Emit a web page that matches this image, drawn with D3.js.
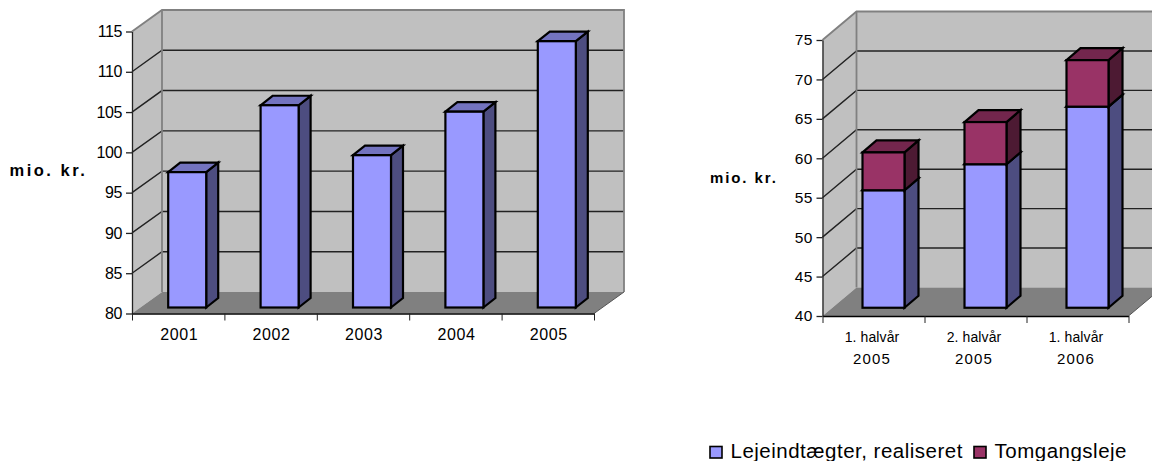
<!DOCTYPE html>
<html>
<head>
<meta charset="utf-8">
<script src="https://cdn.jsdelivr.net/npm/d3@7"></script>
<style>
  html, body { margin: 0; padding: 0; background: #fff; }
  svg { display: block; }
  text { font-family: "Liberation Sans", Arial, sans-serif; fill: #000; }
</style>
</head>
<body>
<div id="chart"></div>
<script>
const years = ['2001', '2002', '2003', '2004', '2005'];
const revenue = [96.8, 105.1, 98.9, 104.3, 113.05];

const halves = ['1. halvår 2005', '2. halvår 2005', '1. halvår 2006'];
const realised = [54.9, 58.2, 65.5];
const vacancy = [4.8, 5.35, 5.9];

const PALETTE = {
  blue: { front: '#9999ff', top: '#7373bf', side: '#4d4d80' },
  wine: { front: '#993366', top: '#73264d', side: '#4d1a33' },
};

const svg = d3.select('#chart').append('svg')
  .attr('width', 1152)
  .attr('height', 461);

// fake 3d column chart: the front axes sit on x/y, the back wall is offset by depth
const drawChart = (c) => {
  const g = svg.append('g');
  const { left, right, top, bottom, domain, depth, bar } = c;

  const y = d3.scaleLinear().domain(domain).range([bottom, top]);
  const x = d3.scaleBand().domain(c.categories).range([left, right]);
  const edges = d3.scaleLinear().domain([0, c.categories.length]).range([left, right]);
  const yTicks = d3.range(domain[0], domain[1] + 1, 5);

  const poly = (pts, fill) => g.append('polygon')
    .attr('points', pts.map(p => p.join(',')).join(' '))
    .attr('fill', fill);

  // walls and floor
  poly([[left, bottom], [left + depth.x, bottom - depth.y], [left + depth.x, top - depth.y], [left, top]], '#c0c0c0');
  poly([[left + depth.x, bottom - depth.y], [right + depth.x, bottom - depth.y], [right + depth.x, top - depth.y], [left + depth.x, top - depth.y]], '#c0c0c0');
  poly([[left, bottom], [right, bottom], [right + depth.x, bottom - depth.y], [left + depth.x, bottom - depth.y]], '#808080');

  // gridlines run along the side wall and across the back
  yTicks.slice(1, -1).forEach(t => {
    g.append('polyline')
      .attr('points', `${left},${y(t)} ${left + depth.x},${y(t) - depth.y} ${right + depth.x},${y(t) - depth.y}`)
      .attr('fill', 'none')
      .attr('stroke', '#222')
      .attr('stroke-width', 1.4);
  });

  // wall outline
  g.append('polyline')
    .attr('points', `${left},${top} ${left + depth.x},${top - depth.y} ${right + depth.x},${top - depth.y} ${right + depth.x},${bottom - depth.y}`)
    .attr('fill', 'none')
    .attr('stroke', '#808080')
    .attr('stroke-width', 1.8);
  g.append('line')
    .attr('x1', left + depth.x).attr('x2', left + depth.x)
    .attr('y1', top - depth.y).attr('y2', bottom - depth.y)
    .attr('stroke', '#808080')
    .attr('stroke-width', 1.8);
  g.append('line')
    .attr('x1', right).attr('y1', bottom)
    .attr('x2', right + depth.x).attr('y2', bottom - depth.y)
    .attr('stroke', '#555')
    .attr('stroke-width', 1);

  // columns, stacked from the bottom up
  const offX = (depth.x - bar.dx) / 2;
  const offY = (depth.y - bar.dy) / 2;
  const keys = c.series.map(s => s.key);
  const rows = c.categories.map((cat, i) => {
    const row = { cat };
    c.series.forEach(s => { row[s.key] = s.values[i]; });
    return row;
  });
  const stacked = d3.stack().keys(keys)(rows);

  stacked.forEach((layer, li) => {
    const colors = c.series[li].colors;
    layer.forEach(d => {
      const cat = d.data.cat;
      const x0 = x(cat) + x.bandwidth() / 2 + offX - bar.width / 2;
      const x1 = x0 + bar.width;
      const yLow = y(li === 0 ? domain[0] : d[0]) - offY;
      const yTop = y(d[1]) - offY;
      const col = g.append('g')
        .attr('stroke', '#000')
        .attr('stroke-width', 2.2)
        .attr('stroke-linejoin', 'miter');
      col.append('polygon')
        .attr('points', `${x1},${yLow} ${x1 + bar.dx},${yLow - bar.dy} ${x1 + bar.dx},${yTop - bar.dy} ${x1},${yTop}`)
        .attr('fill', colors.side);
      col.append('polygon')
        .attr('points', `${x0},${yTop} ${x0 + bar.dx},${yTop - bar.dy} ${x1 + bar.dx},${yTop - bar.dy} ${x1},${yTop}`)
        .attr('fill', colors.top);
      col.append('rect')
        .attr('x', x0).attr('y', yTop)
        .attr('width', bar.width).attr('height', yLow - yTop)
        .attr('fill', colors.front);
    });
  });

  // axes
  const yAxis = g.append('g')
    .attr('transform', `translate(${left},0)`)
    .call(d3.axisLeft(y).tickValues(yTicks).tickSize(6).tickPadding(4).tickSizeOuter(0));
  yAxis.selectAll('text')
    .style('font-size', c.tickFont + 'px')
    .attr('letter-spacing', c.tickSpacing);
  yAxis.selectAll('line, path').attr('stroke', '#222').attr('stroke-width', 1.3);

  const xAxis = g.append('g')
    .attr('transform', `translate(0,${bottom})`)
    .call(d3.axisBottom(edges).tickValues(d3.range(c.categories.length + 1)).tickFormat('').tickSize(7).tickSizeOuter(0));
  xAxis.selectAll('line').attr('stroke', '#222').attr('stroke-width', 1);
  xAxis.select('path').attr('stroke', '#000').attr('stroke-width', 1.6);

  c.categories.forEach(cat => {
    const cx = x(cat) + x.bandwidth() / 2 + c.labelShift;
    c.splitLabel(cat).forEach((line, i) => {
      g.append('text')
        .attr('x', cx)
        .attr('y', c.labelY[i])
        .attr('text-anchor', 'middle')
        .attr('letter-spacing', line.spacing)
        .style('font-size', line.size + 'px')
        .text(line.text);
    });
  });

  g.append('text')
    .attr('x', c.unit.x)
    .attr('y', c.unit.y)
    .attr('font-weight', 'bold')
    .attr('letter-spacing', c.unit.spacing)
    .style('font-size', c.unit.size + 'px')
    .text('mio. kr.');
};

drawChart({
  categories: years,
  series: [{ key: 'revenue', values: revenue, colors: PALETTE.blue }],
  left: 132, right: 594, top: 31.5, bottom: 313.5,
  domain: [80, 115],
  depth: { x: 30, y: 21.5 },
  bar: { width: 38, dx: 12, dy: 9.5 },
  tickFont: 16, tickSpacing: -0.4,
  labelShift: 1,
  labelY: [339.5],
  splitLabel: cat => [{ text: cat, size: 16, spacing: 0.6 }],
  unit: { x: 9.5, y: 176, size: 16.5, spacing: 2.5 },
});

drawChart({
  categories: halves,
  series: [
    { key: 'realised', values: realised, colors: PALETTE.blue },
    { key: 'vacancy', values: vacancy, colors: PALETTE.wine },
  ],
  left: 822.5, right: 1128.5, top: 40, bottom: 316,
  domain: [40, 75],
  depth: { x: 34, y: 28.5 },
  bar: { width: 42, dx: 14, dy: 12 },
  tickFont: 15.5, tickSpacing: 0.2,
  labelShift: -1.5,
  labelY: [341.5, 363.5],
  splitLabel: cat => {
    const parts = cat.split(' ');
    return [
      { text: parts[0] + ' ' + parts[1], size: 14, spacing: 0.1 },
      { text: parts[2], size: 15, spacing: 1.1 },
    ];
  },
  unit: { x: 710, y: 183, size: 15, spacing: 1.9 },
});

// legend
const legendItems = [
  { label: 'Lejeindtægter, realiseret', color: PALETTE.blue.front, x: 710 },
  { label: 'Tomgangsleje', color: PALETTE.wine.front, x: 974 },
];
const legend = svg.append('g');
legendItems.forEach(d => {
  legend.append('rect')
    .attr('x', d.x).attr('y', 446.5)
    .attr('width', 12).attr('height', 11.5)
    .attr('fill', d.color)
    .attr('stroke', '#000')
    .attr('stroke-width', 1.6);
  legend.append('text')
    .attr('x', d.x + 20.5).attr('y', 458)
    .attr('letter-spacing', 0.5)
    .style('font-size', '20.5px')
    .text(d.label);
});
</script>
</body>
</html>
